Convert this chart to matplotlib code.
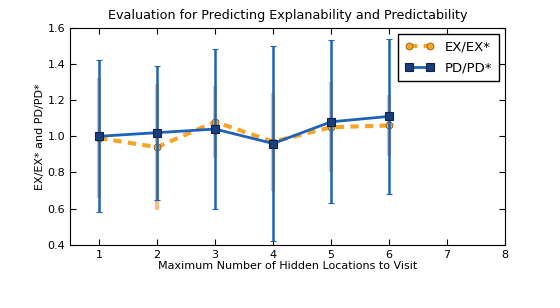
import matplotlib.pyplot as plt
import numpy as np
from matplotlib.lines import Line2D

visits = [1, 2, 3, 4, 5, 6]
ex_mean = [0.99, 0.94, 1.08, 0.97, 1.05, 1.06]
ex_err = [0.33, 0.35, 0.20, 0.27, 0.25, 0.17]
pd_mean = [1.00, 1.02, 1.04, 0.96, 1.08, 1.11]
pd_err = [0.42, 0.37, 0.44, 0.54, 0.45, 0.43]

ORANGE = "#f5a52a"
ORANGE_BAR = "#f7c08a"
BLUE = "#1f63b8"
DARK_BLUE = "#1b3f7a"

fig = plt.figure(figsize=(5.6, 3.08), dpi=100)
ax = fig.add_axes([0.125, 0.205, 0.777, 0.705])

ex_style = dict(color=ORANGE, linestyle=(0, (2, 1.5)), linewidth=3, marker="o",
                markersize=5, markerfacecolor=ORANGE, markeredgecolor="#8a5a10",
                markeredgewidth=0.6)
pd_style = dict(color=BLUE, linewidth=2, marker="s", markersize=6,
                markerfacecolor=DARK_BLUE, markeredgecolor="#0d2345",
                markeredgewidth=0.8)

ax.errorbar(visits, ex_mean, yerr=ex_err, ecolor=ORANGE_BAR, elinewidth=3,
            capsize=0, zorder=2, **ex_style)
ax.errorbar(visits, pd_mean, yerr=pd_err, ecolor=BLUE, elinewidth=1.8,
            capsize=2, capthick=1.5, zorder=3, **pd_style)

ax.set_xlim(0.5, 8)
ax.set_ylim(0.4, 1.6)
ax.set_xticks(range(1, 9))
ax.set_yticks(np.arange(0.4, 1.61, 0.2))
ax.tick_params(direction="in", top=True, right=True, labelsize=8, length=4)
ax.set_title("Evaluation for Predicting Explanability and Predictability", fontsize=9.2)
ax.set_xlabel("Maximum Number of Hidden Locations to Visit", fontsize=8, labelpad=1)
ax.set_ylabel("EX/EX* and PD/PD*", fontsize=8, labelpad=2)

handles = [Line2D([], [], **ex_style), Line2D([], [], **pd_style)]
leg = ax.legend(handles, ["EX/EX*", "PD/PD*"], loc="upper right", fontsize=9.5,
                numpoints=2, fancybox=False, framealpha=1, edgecolor="black",
                handlelength=2.2, borderpad=0.5, labelspacing=0.6)
leg.get_frame().set_linewidth(1.0)

fig.savefig("out.png", dpi=100)
